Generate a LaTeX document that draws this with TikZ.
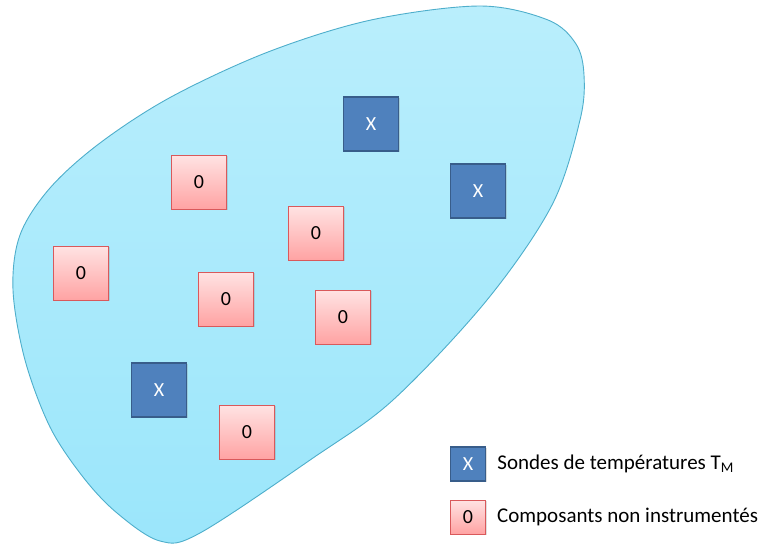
\documentclass[tikz,border=0pt]{standalone}
\usepackage{fontspec}
\setmainfont{Carlito}
\usetikzlibrary{positioning,shadows}

\definecolor{blobtop}{HTML}{B9EEFC}
\definecolor{blobbot}{HTML}{9BE6FB}
\definecolor{blobline}{HTML}{4EAECB}
\definecolor{sondefill}{HTML}{4F81BD}
\definecolor{sondeline}{HTML}{385D8A}
\definecolor{compotop}{HTML}{FFE3E3}
\definecolor{compobot}{HTML}{FFA3A3}
\definecolor{compoline}{HTML}{D9595B}

\begin{document}
\begin{tikzpicture}[x=1pt,y=-1pt,
    every node/.style={font=\fontsize{20}{24}\selectfont},
    sonde/.style={draw=sondeline, line width=1.5pt, fill=sondefill, text=white,
        minimum width=55pt, minimum height=54pt, inner sep=0pt,
        drop shadow={shadow xshift=1pt, shadow yshift=-1pt, opacity=0.25}},
    compo/.style={draw=compoline, line width=0.9pt, top color=compotop, bottom color=compobot,
        minimum width=55pt, minimum height=54pt, inner sep=0pt,
        drop shadow={shadow xshift=1pt, shadow yshift=-1pt, opacity=0.25}},
    legsonde/.style={sonde, minimum width=35pt, minimum height=34pt},
    legcompo/.style={compo, minimum width=35pt, minimum height=34pt},
    legtext/.style={inner sep=0pt, anchor=west, font=\fontsize{21}{25}\selectfont}]

    \useasboundingbox (0,0) rectangle (762,543);

    % zone du systeme
    \draw[blobline, line width=0.9pt, top color=blobtop, bottom color=blobbot]
        plot[smooth cycle, tension=0.55] coordinates {
            (480,6) (548,20) (576,44) (584,75) (580,120) (552,205) (487,300)
            (393,400) (313,458) (200,533) (160,541) (117,513) (83,477)
            (50,427) (25,360) (13,290) (20,235) (50,188) (100,143) (171,97)
            (268,52) (371,20)};

    % sondes
    \node[sonde] (s1) at (371,124) {X};
    \node[sonde] (s2) at (478,191) {X};
    \node[sonde] (s3) at (159,390) {X};

    % composants
    \node[compo] (c1) at (199,182) {0};
    \node[compo] (c2) at (316,233) {0};
    \node[compo] (c3) at (81,273) {0};
    \node[compo] (c4) at (226,299) {0};
    \node[compo] (c5) at (343,317) {0};
    \node[compo] (c6) at (247,432) {0};

    % legende
    \node[legsonde] (ls) at (468,464) {X};
    \node[legtext, right=11pt of ls] (lstext) {Sondes de températures T\textsubscript{M}};
    \node[legcompo] (lc) at (468,517) {0};
    \node[legtext, right=11pt of lc] (lctext) {Composants non instrumentés};
\end{tikzpicture}
\end{document}
